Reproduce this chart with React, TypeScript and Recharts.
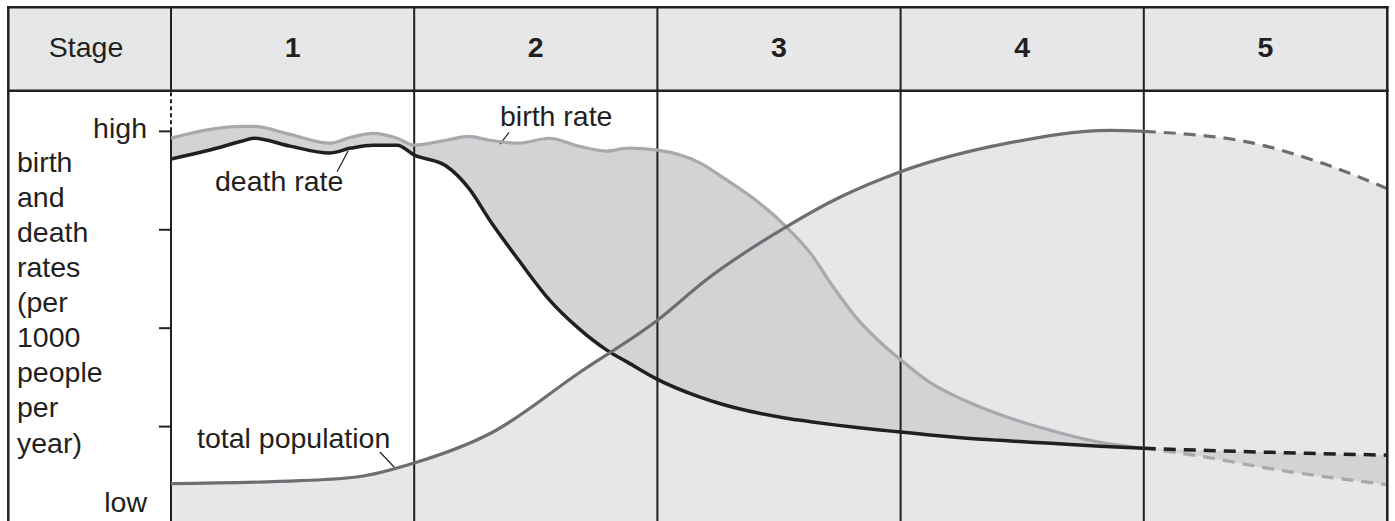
import { Area, ComposedChart, Line, ReferenceLine, XAxis, YAxis } from "recharts";

// stage position (0-5) and rate level (low -> high, tick units)
const rateStage = [0, 0.16, 0.29, 0.34, 0.49, 0.65, 0.74, 0.83, 0.93, 1.0, 1.13, 1.225, 1.31, 1.43, 1.555, 1.675, 1.79, 1.88, 2.0, 2.175, 2.27, 2.41, 2.53, 2.63, 2.72, 2.82, 2.915, 3.0, 3.12, 3.26, 3.41, 3.62, 3.82, 4.0, 4.23, 4.5, 5.0];
const birthRate = [3.93, 4.02, 4.05, 4.05, 3.97, 3.88, 3.94, 3.98, 3.93, 3.86, 3.91, 3.95, 3.91, 3.88, 3.93, 3.85, 3.80, 3.83, 3.81, 3.68, 3.53, 3.29, 3.03, 2.76, 2.43, 2.10, 1.86, 1.68, 1.45, 1.27, 1.12, 0.96, 0.84, 0.78, 0.70, 0.58, 0.41];
const deathRate = [3.72, 3.81, 3.90, 3.93, 3.85, 3.78, 3.83, 3.86, 3.86, 3.76, 3.65, 3.42, 3.10, 2.69, 2.29, 2.00, 1.78, 1.65, 1.48, 1.30, 1.225, 1.14, 1.085, 1.05, 1.02, 0.99, 0.965, 0.945, 0.915, 0.885, 0.86, 0.83, 0.80, 0.78, 0.76, 0.74, 0.71];

const popStage = [0, 0.53, 0.77, 1.0, 1.32, 1.68, 2.0, 2.2, 2.53, 2.75, 3.0, 3.44, 3.86, 4.0, 4.45, 4.73, 5.0];
const population = [0.42, 0.45, 0.49, 0.63, 0.94, 1.55, 2.08, 2.49, 3.03, 3.33, 3.59, 3.88, 4.01, 4.0, 3.88, 3.68, 3.42];

const stages = ["1", "2", "3", "4", "5"];
const yTicks = [0.2, 1, 2, 3, 4];
const yTickLabels = ["low", "", "", "", "high"];
const yTickMarks = [false, true, true, true, true];
const axisTitle = ["birth", "and", "death", "rates", "(per", "1000", "people", "per", "year)"];

// projected part starts here (stage 5)
const PROJECTED = 4;

const rateRows = rateStage.map((s, i) => ({
  stage: s,
  birth: birthRate[i],
  death: deathRate[i],
  band: [deathRate[i], birthRate[i]],
}));
const popRows = popStage.map((s, i) => ({ stage: s, pop: population[i] }));

const INK = "#231f20";
const FONT = "'Liberation Sans', Arial, Helvetica, sans-serif";
const PLOT_LEFT = 171;
const COL_W = 243.2;

const renderTick = (props: any) => {
  const { x, y, payload } = props;
  const i = yTicks.indexOf(payload.value);
  return (
    <g>
      {yTickMarks[i] && (
        <line x1={x + 12} x2={x + 24} y1={y} y2={y} stroke={INK} strokeWidth={2} />
      )}
      {yTickLabels[i] && (
        <text x={x} y={y} dy={6.6} textAnchor="end" fontFamily={FONT} fontSize={28.5} fill={INK}>
          {yTickLabels[i]}
        </text>
      )}
    </g>
  );
};

export default function App() {
  const solid = (rows: any[]) => rows.filter((r) => r.stage <= PROJECTED);
  const dashed = (rows: any[]) => rows.filter((r) => r.stage >= PROJECTED);

  return (
    <div style={{ position: "relative", width: 1395, height: 521, overflow: "hidden", background: "#fff" }}>
      <style>{"body{margin:0}"}</style>
      <ComposedChart width={1395} height={525} margin={{ top: 92, right: 8, bottom: 0, left: 0 }}>
        <XAxis type="number" dataKey="stage" domain={[0, 5]} allowDataOverflow hide />
        <YAxis
          type="number"
          domain={[0, 4.4]}
          allowDataOverflow
          ticks={yTicks}
          interval={0}
          width={171}
          tickSize={12}
          tickMargin={12}
          tickLine={false}
          axisLine={false}
          tick={renderTick}
        />
        <Area data={popRows} dataKey="pop" type="monotone" fill="#e6e7e8" fillOpacity={1} stroke="none" isAnimationActive={false} />
        <Area data={rateRows} dataKey="band" type="monotone" fill="#d1d3d4" fillOpacity={1} stroke="none" isAnimationActive={false} />

        {[1, 2, 3, 4].map((s) => (
          <ReferenceLine key={s} x={s} stroke={INK} strokeWidth={2} />
        ))}
        <ReferenceLine segment={[{ x: 0, y: 0 }, { x: 0, y: 4 }]} stroke={INK} strokeWidth={2} />
        <ReferenceLine segment={[{ x: 0, y: 4 }, { x: 0, y: 4.4 }]} stroke={INK} strokeWidth={2} strokeDasharray="4 3" />

        {/* leader lines for the labels */}
        <ReferenceLine segment={[{ x: 1.39, y: 3.99 }, { x: 1.353, y: 3.87 }]} stroke={INK} strokeWidth={1.2} />
        <ReferenceLine segment={[{ x: 0.683, y: 3.59 }, { x: 0.728, y: 3.8 }]} stroke={INK} strokeWidth={1.2} />
        <ReferenceLine segment={[{ x: 0.859, y: 0.742 }, { x: 0.921, y: 0.579 }]} stroke={INK} strokeWidth={1.2} />

        <Line data={solid(rateRows)} dataKey="birth" type="monotone" stroke="#a7a9ac" strokeWidth={3.2} dot={false} isAnimationActive={false} />
        <Line data={dashed(rateRows)} dataKey="birth" type="monotone" stroke="#a7a9ac" strokeWidth={3.2} strokeDasharray="12 8" dot={false} isAnimationActive={false} />
        <Line data={solid(rateRows)} dataKey="death" type="monotone" stroke={INK} strokeWidth={3.5} dot={false} isAnimationActive={false} />
        <Line data={dashed(rateRows)} dataKey="death" type="monotone" stroke={INK} strokeWidth={3.5} strokeDasharray="12 8" dot={false} isAnimationActive={false} />
        <Line data={solid(popRows)} dataKey="pop" type="monotone" stroke="#6d6e71" strokeWidth={3.2} dot={false} isAnimationActive={false} />
        <Line data={dashed(popRows)} dataKey="pop" type="monotone" stroke="#6d6e71" strokeWidth={3.2} strokeDasharray="12 8" dot={false} isAnimationActive={false} />
      </ComposedChart>

      <svg
        width={1395}
        height={521}
        style={{ position: "absolute", left: 0, top: 0, pointerEvents: "none" }}
        fontFamily={FONT}
        fontSize={28.5}
        fill={INK}
      >
        {/* header row */}
        <rect x={8} y={7} width={1379} height={84} fill="#e6e7e8" />
        <line x1={7} x2={1388.5} y1={7.2} y2={7.2} stroke={INK} strokeWidth={2.5} />
        <line x1={7} x2={1388.5} y1={90.8} y2={90.8} stroke={INK} strokeWidth={2.5} />
        {stages.map((_, i) => (
          <line key={i} x1={PLOT_LEFT + i * COL_W} x2={PLOT_LEFT + i * COL_W} y1={7} y2={92} stroke={INK} strokeWidth={2} />
        ))}
        <line x1={8.3} x2={8.3} y1={6} y2={521} stroke={INK} strokeWidth={2.5} />
        <line x1={1387.3} x2={1387.3} y1={6} y2={521} stroke={INK} strokeWidth={2.5} />

        <text x={86} y={57} textAnchor="middle">Stage</text>
        {stages.map((s, i) => (
          <text key={s} x={PLOT_LEFT + (i + 0.5) * COL_W} y={57} textAnchor="middle" fontWeight="bold">
            {s}
          </text>
        ))}

        {/* y axis title */}
        {axisTitle.map((w, i) => (
          <text key={i} x={17} y={171.7 + i * 35.1}>{w}</text>
        ))}

        {/* curve labels */}
        <text x={500} y={126}>birth rate</text>
        <text x={215} y={190.7}>death rate</text>
        <text x={197} y={448}>total population</text>
      </svg>
    </div>
  );
}
